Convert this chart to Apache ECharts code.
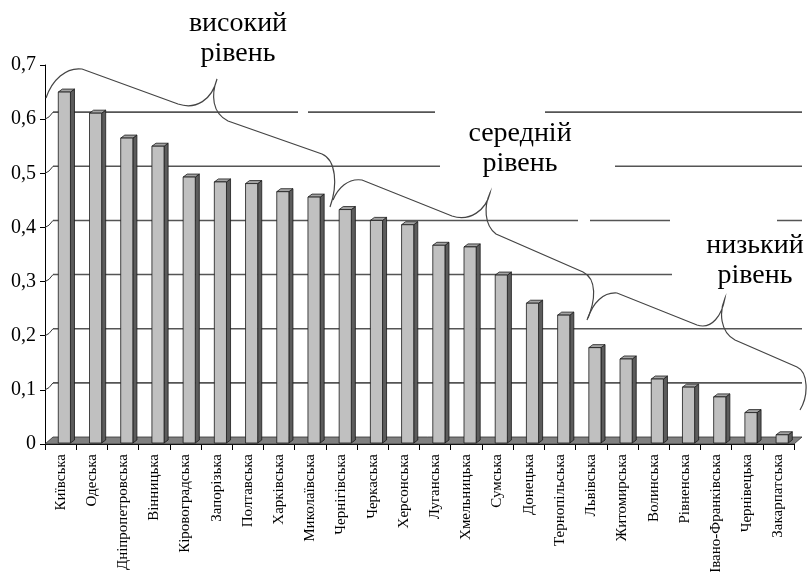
<!DOCTYPE html>
<html><head><meta charset="utf-8">
<script src="https://cdn.jsdelivr.net/npm/echarts@6/dist/echarts.min.js"></script>
<style>html,body{margin:0;padding:0;background:#fff}#c{width:807px;height:572px}</style>
</head><body><div id="c"></div>
<script>
const categories = ['Київська','Одеська','Дніпропетровська','Вінницька','Кіровоградська','Запорізька','Полтавська','Харківська','Миколаївська','Чернігівська','Черкаська','Херсонська','Луганська','Хмельницька','Сумська','Донецька','Тернопільська','Львівська','Житомирська','Волинська','Рівненська','Івано-Франківська','Чернівецька','Закарпатська'];
const values = [0.65,0.611,0.565,0.55,0.493,0.484,0.481,0.466,0.456,0.433,0.413,0.405,0.367,0.364,0.312,0.26,0.238,0.178,0.157,0.12,0.105,0.087,0.058,0.017];
const yTicks = [0,0.1,0.2,0.3,0.4,0.5,0.6,0.7];
const yTickLabels = ['0','0,1','0,2','0,3','0,4','0,5','0,6','0,7'];
const wallLines = [0.1,0.2,0.3,0.4,0.5,0.6];
const levelTop = ['високий','середній','низький'];
const levelBottom = ['рівень','рівень','рівень'];

const DX = 8, DY = -7;

const chart = echarts.init(document.getElementById('c'));

function wallItem(params, api){
  const cs = params.coordSys;
  const y = api.coord([0, api.value(1)])[1];
  return {type:'group', children:[
    {type:'line', shape:{x1:cs.x+DX, y1:y+DY, x2:cs.x+cs.width+DX, y2:y+DY}, style:{stroke:'#555', lineWidth:1.6}},
    {type:'path', shape:{pathData:'M'+cs.x+','+y+' Q'+(cs.x+4)+','+(y-1)+' '+(cs.x+DX)+','+(y+DY)}, style:{stroke:'#333', lineWidth:1, fill:'none'}}
  ]};
}
function floorItem(params, api){
  const cs = params.coordSys;
  const y0 = api.coord([0, 0])[1];
  return {type:'polygon', shape:{points:[[cs.x, y0],[cs.x+cs.width, y0],[cs.x+cs.width+DX, y0+DY],[cs.x+DX, y0+DY]]},
    style:{fill:'#808080', stroke:'#333', lineWidth:0.8}};
}
function barItem(params, api){
  const i = api.value(0), v = api.value(1);
  const top = api.coord([i, v]);
  const base = api.coord([i, 0]);
  const w = api.size([1, 0])[0];
  const x0 = top[0] - 0.074*w, x1 = top[0] + 0.315*w;
  const d = 0.13*w, e = 3;
  const yt = top[1], yb = base[1] - 1;
  const st = {stroke:'#1a1a1a', lineWidth:0.8};
  return {type:'group', children:[
    {type:'polygon', shape:{points:[[x1,yt],[x1+d,yt-e],[x1+d,yb-e],[x1,yb]]}, style:Object.assign({fill:'#5c5c5c'}, st)},
    {type:'polygon', shape:{points:[[x0,yt],[x1,yt],[x1+d,yt-e],[x0+d,yt-e]]}, style:Object.assign({fill:'#a4a4a4'}, st)},
    {type:'rect', shape:{x:x0, y:yt, width:x1-x0, height:yb-yt}, style:Object.assign({fill:'#c0c0c0'}, st)}
  ]};
}

const gaps = [[298,107,10,8],[435,107,110,8],[440,161,175,8],[578,216,12,8],[670,216,107,8],[672,270,135,8]];
const braces = [
  'M46,98 C52,80 66,67 82,69 L178,104 C196,110 212,100 217,79 C211,95 212,113 228,121 L322,154 C336,160 338,185 330,207',
  'M333,200 C338,188 348,178 362,180 L452,216 C470,222 486,210 490,193 C484,206 484,225 496,234 L583,272 C597,279 596,300 587,320',
  'M588,318 C593,303 603,292 617,293 L697,325 C712,330 722,315 725,298 C719,312 720,332 735,340 L797,367 C808,372 809,395 800,410'
];
function braceItem(params, api){
  return {type:'group', children: braces.map(p => ({type:'path', shape:{pathData:p}, style:{fill:'none', stroke:'#444', lineWidth:1.2}}))};
}
const textPos = [[238,24,54],[520,134,164],[755,246,276]];

const graphic = [];
gaps.forEach(g => graphic.push({type:'rect', z:2, shape:{x:g[0], y:g[1], width:g[2], height:g[3]}, style:{fill:'#fff'}}));
textPos.forEach((t, k) => {
  graphic.push({type:'text', z:10, x:t[0], y:t[1], style:{text:levelTop[k], fontSize:28, fontFamily:'Liberation Serif', fill:'#000', align:'center', verticalAlign:'middle'}});
  graphic.push({type:'text', z:10, x:t[0], y:t[2], style:{text:levelBottom[k], fontSize:28, fontFamily:'Liberation Serif', fill:'#000', align:'center', verticalAlign:'middle'}});
});

chart.setOption({
  animation:false,
  backgroundColor:'#fff',
  grid:{left:45, right:13, top:65, bottom:128, containLabel:false, outerBoundsMode:'none'},
  xAxis:{type:'category', data:categories,
    axisLine:{lineStyle:{color:'#000', width:1}},
    axisTick:{show:true, interval:0, length:6, lineStyle:{color:'#000'}},
    axisLabel:{interval:0, rotate:90, margin:10, fontFamily:'Liberation Serif', fontSize:15, color:'#000'},
    splitLine:{show:false}},
  yAxis:{type:'value', min:0, max:0.7, interval:0.1,
    axisLine:{show:true, lineStyle:{color:'#000', width:1}},
    axisTick:{show:true, length:5, lineStyle:{color:'#000'}},
    splitLine:{show:false},
    axisLabel:{margin:9, fontFamily:'Liberation Serif', fontSize:20, color:'#000',
      formatter:v => { const k = yTicks.findIndex(t => Math.abs(t - v) < 1e-9); return k >= 0 ? yTickLabels[k] : ''; }}},
  graphic:graphic,
  series:[
    {type:'custom', z:1, renderItem:wallItem, data:wallLines.map(v => [0, v]), encode:{x:0, y:1}, silent:true},
    {type:'custom', z:2.5, renderItem:floorItem, data:[[0, 0]], encode:{x:0, y:1}, silent:true},
    {type:'custom', z:3, renderItem:barItem, data:values.map((v, i) => [i, v]), encode:{x:0, y:1}},
    {type:'custom', z:10, renderItem:braceItem, data:[[0, 0]], encode:{x:0, y:1}, silent:true, clip:false}
  ]
});
</script></body></html>
